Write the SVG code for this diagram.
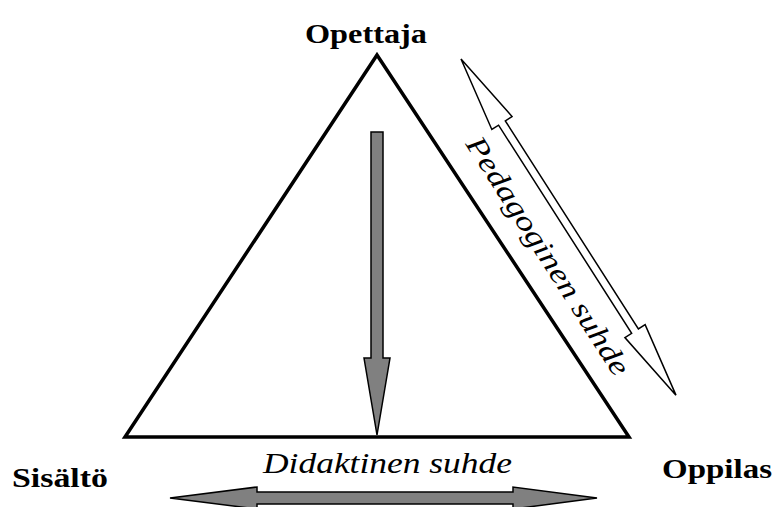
<svg xmlns="http://www.w3.org/2000/svg" width="778" height="507" viewBox="0 0 778 507">
  <style>
    .label { font-family: "Liberation Serif", "Times New Roman", serif; font-weight: bold; font-size: 28px; fill: #000; }
    .rel { font-family: "Liberation Serif", "Times New Roman", serif; font-style: italic; font-size: 29px; fill: #000; }
    .grey { fill: #808080; stroke: #000; stroke-width: 1.5; stroke-linejoin: miter; }
    .hollow { fill: #fff; stroke: #000; stroke-width: 1.5; stroke-linejoin: miter; }
  </style>
  <rect width="778" height="507" fill="#fff"/>

  <!-- teaching triangle -->
  <g id="triangle">
    <polygon points="377,55 629,437 125,437" fill="none" stroke="#000" stroke-width="3.5" stroke-linejoin="miter"/>
  </g>

  <g id="opettaja">
    <text class="label" x="305" y="43" textLength="122" lengthAdjust="spacingAndGlyphs">Opettaja</text>
  </g>
  <g id="sisalto">
    <text class="label" x="12" y="487" textLength="96" lengthAdjust="spacingAndGlyphs">Sisältö</text>
  </g>
  <g id="oppilas">
    <text class="label" x="662" y="478" textLength="110" lengthAdjust="spacingAndGlyphs">Oppilas</text>
  </g>

  <g id="connectors">
    <!-- teacher to content -->
    <polygon class="grey" points="371,132 383,132 383,358 390,358 377,435 364,358 371,358"/>
    <!-- didactic relation: content <-> pupil -->
    <polygon class="grey" points="170,498 257,487 257,492 513,492 513,487 597,498 513,509 513,504 257,504 257,509"/>
    <!-- pedagogical relation: teacher <-> pupil -->
    <g transform="translate(461,59) rotate(57.4)">
      <polygon class="hollow" points="0,0 76,-12 76,-4 323,-4 323,-12 399,0 323,12 323,4 76,4 76,12"/>
    </g>
    <text class="rel" x="263" y="473" textLength="249" lengthAdjust="spacingAndGlyphs">Didaktinen suhde</text>
    <text class="rel" transform="translate(540,261) rotate(57.4)" text-anchor="middle" x="0" y="0" textLength="278" lengthAdjust="spacingAndGlyphs">Pedagoginen suhde</text>
  </g>
</svg>
